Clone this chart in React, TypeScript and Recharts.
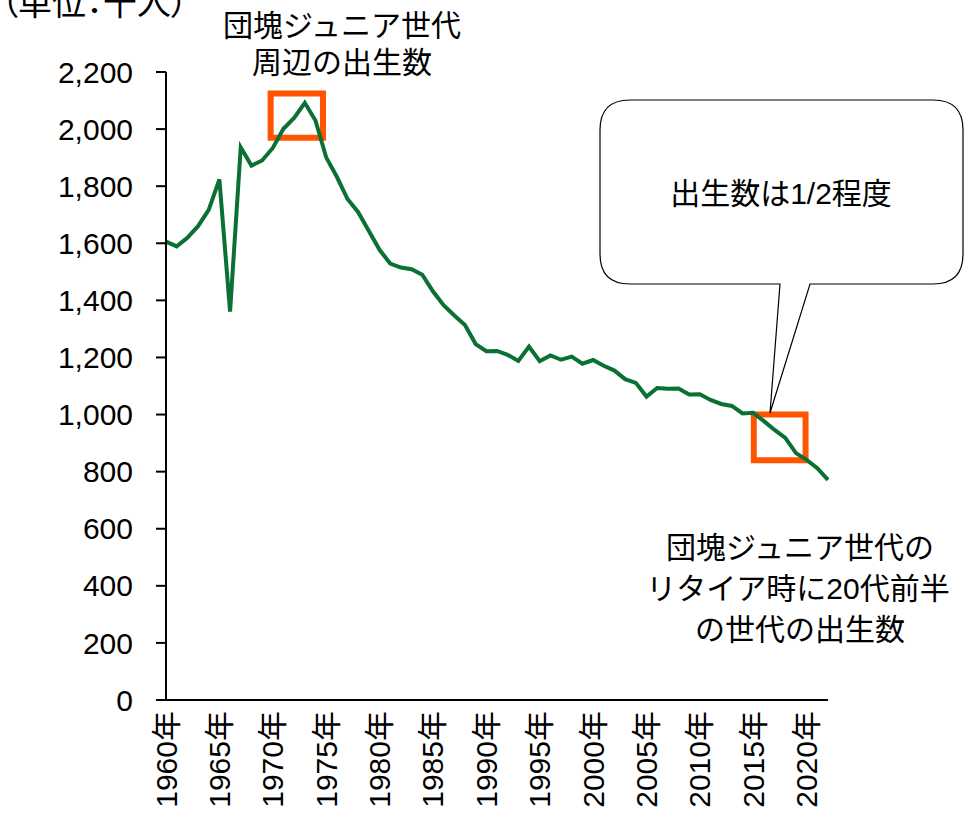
import React from "react"
import {
  LineChart,
  Line,
  XAxis,
  YAxis,
  ReferenceArea,
} from "recharts"

// 出生数（千人）
const years = [
  1960, 1961, 1962, 1963, 1964, 1965, 1966, 1967, 1968, 1969,
  1970, 1971, 1972, 1973, 1974, 1975, 1976, 1977, 1978, 1979,
  1980, 1981, 1982, 1983, 1984, 1985, 1986, 1987, 1988, 1989,
  1990, 1991, 1992, 1993, 1994, 1995, 1996, 1997, 1998, 1999,
  2000, 2001, 2002, 2003, 2004, 2005, 2006, 2007, 2008, 2009,
  2010, 2011, 2012, 2013, 2014, 2015, 2016, 2017, 2018, 2019,
  2020, 2021, 2022,
]

const births = [
  1606, 1589, 1619, 1660, 1717, 1824, 1361, 1936, 1872, 1890,
  1934, 2001, 2039, 2092, 2030, 1901, 1833, 1755, 1709, 1643,
  1577, 1529, 1515, 1509, 1490, 1432, 1383, 1347, 1314, 1247,
  1222, 1223, 1209, 1188, 1238, 1187, 1207, 1192, 1203, 1178,
  1191, 1171, 1154, 1124, 1111, 1063, 1093, 1090, 1091, 1070,
  1071, 1051, 1037, 1030, 1004, 1006, 977, 946, 918, 865,
  841, 812, 771,
]

const xTicks = [1960, 1965, 1970, 1975, 1980, 1985, 1990, 1995, 2000, 2005, 2010, 2015, 2020]
const yTicks = [0, 200, 400, 600, 800, 1000, 1200, 1400, 1600, 1800, 2000, 2200]

// 強調枠（年, 千人）
const peakBox = { x1: 1969.8, x2: 1974.7, y1: 1970, y2: 2125 }
const recentBox = { x1: 2015.05, x2: 2019.9, y1: 840, y2: 1000 }

const FONT = '"Liberation Sans", Arial, "Noto Sans CJK JP", sans-serif'
const GREEN = "#0B7033"
const ORANGE = "#FF5500"

const data = years.map((y, i) => ({ year: y, value: births[i] }))

function YearTick(props: any) {
  const { x, y, payload } = props
  return (
    <text
      x={x}
      y={y}
      transform={`rotate(-90, ${x}, ${y})`}
      textAnchor="end"
      dominantBaseline="central"
      fontSize={30}
      fontFamily={FONT}
      fill="#000"
    >
      {payload.value}年
    </text>
  )
}

export default function App() {
  return (
    <div
      style={{
        position: "absolute",
        left: 0,
        top: 0,
        width: 965,
        height: 814,
        background: "#fff",
        overflow: "hidden",
      }}
    >
      <LineChart
        width={965}
        height={814}
        data={data}
        margin={{ top: 72, right: 137, bottom: 0, left: 0 }}
      >
        <XAxis
          dataKey="year"
          type="number"
          domain={[1960, 2022]}
          ticks={xTicks}
          interval={0}
          tickLine={false}
          tickSize={0}
          tickMargin={11}
          height={114}
          axisLine={{ stroke: "#000", strokeWidth: 2 }}
          tick={<YearTick />}
        />
        <YAxis
          domain={[0, 2200]}
          ticks={yTicks}
          interval={0}
          width={166}
          tickSize={10}
          tickMargin={23}
          axisLine={{ stroke: "#000", strokeWidth: 2 }}
          tickLine={{ stroke: "#000", strokeWidth: 2 }}
          tick={{ fill: "#000", fontSize: 30, fontFamily: FONT }}
          tickFormatter={(v: number) => v.toLocaleString("en-US")}
        />
        <Line
          dataKey="value"
          type="linear"
          stroke={GREEN}
          strokeWidth={4}
          dot={false}
          isAnimationActive={false}
        />
        <ReferenceArea
          {...peakBox}
          fill="none"
          stroke={ORANGE}
          strokeWidth={6}
          ifOverflow="visible"
        />
        <ReferenceArea
          {...recentBox}
          fill="none"
          stroke={ORANGE}
          strokeWidth={6}
          ifOverflow="visible"
        />
      </LineChart>

      <svg
        width={965}
        height={814}
        style={{ position: "absolute", left: 0, top: 0, pointerEvents: "none" }}
        fontFamily={FONT}
      >
        <text
          x={1}
          y={15}
          fontSize={34}
          fill="#000"
          fontFamily='"Noto Sans CJK JP", sans-serif'
          style={{ fontFeatureSettings: '"palt"' }}
        >
          （単位：千人）
        </text>

        <text x={342} y={36} fontSize={30} textAnchor="middle" fill="#000">
          団塊ジュニア世代
        </text>
        <text x={342} y={73} fontSize={30} textAnchor="middle" fill="#000">
          周辺の出生数
        </text>

        <path
          d="M630,100 H933 Q963,100 963,130 V254 Q963,284 933,284 H810 L770,413 L780,284 H630 Q600,284 600,254 V130 Q600,100 630,100 Z"
          fill="#fff"
          stroke="#000"
          strokeWidth={1.2}
        />
        <text x={781} y={204} fontSize={30} textAnchor="middle" fill="#000">
          出生数は1/2程度
        </text>

        <text x={800} y={558} fontSize={30} textAnchor="middle" fill="#000">
          団塊ジュニア世代の
        </text>
        <text x={798} y={599} fontSize={30} textAnchor="middle" fill="#000">
          リタイア時に20代前半
        </text>
        <text x={800} y={640} fontSize={30} textAnchor="middle" fill="#000">
          の世代の出生数
        </text>
      </svg>
    </div>
  )
}
